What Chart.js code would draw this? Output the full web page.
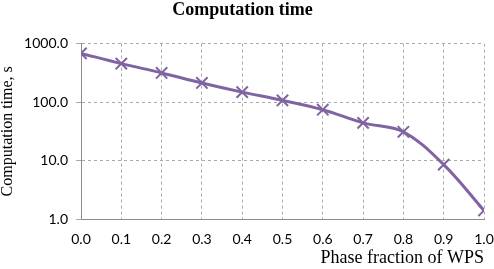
<!DOCTYPE html>
<html>
<head>
<meta charset="utf-8">
<script src="https://cdn.jsdelivr.net/npm/chart.js@4"></script>
<style>
    html, body { margin: 0; padding: 0; background: #fff; }
    #wrap { width: 494px; height: 269px; }
</style>
</head>
<body>
<div id="wrap"><canvas id="TimeChart"></canvas></div>
<script>
const phaseFraction = [0.0, 0.1, 0.2, 0.3, 0.4, 0.5, 0.6, 0.7, 0.8, 0.9, 1.0];
const compTime = [680, 455, 315, 212, 148, 107, 74, 44, 31, 8.5, 1.4];
const yTicks = [1, 10, 100, 1000];

function TimeChart() {
    const ctx = document.getElementById("TimeChart");
    const purple = "rgb(128, 100, 162)";
    const gridColor = "rgb(170, 170, 170)";
    const axisColor = "rgb(140, 140, 140)";

    new Chart(ctx, {
        type: "line",
        data: {
            datasets: [
                {
                    label: "Computation time",
                    data: phaseFraction.map((x, i) => ({ x: x, y: compTime[i] })),
                    borderColor: purple,
                    backgroundColor: purple,
                    borderWidth: 3,
                    fill: false,
                    tension: 0.35,
                    pointStyle: "crossRot",
                    pointRadius: 8,
                    pointBorderWidth: 2,
                    pointBorderColor: purple,
                },
            ],
        },
        options: {
            responsive: true,
            maintainAspectRatio: false,
            animation: false,
            layout: {
                padding: { left: 0, right: 9, top: 0, bottom: 0 }
            },
            plugins: {
                legend: { display: false },
                tooltip: { enabled: false },
                title: {
                    display: true,
                    text: "Computation time",
                    color: "#000",
                    font: { family: "Liberation Serif", size: 18, weight: "bold", lineHeight: 1.2 },
                    padding: { top: 0, bottom: 22 },
                },
            },
            scales: {
                x: {
                    type: "linear",
                    min: 0,
                    max: 1,
                    afterBuildTicks: (scale) => {
                        scale.ticks = phaseFraction.map(v => ({ value: v }));
                    },
                    afterFit: (scale) => {
                        scale.height = 50;
                        scale.paddingLeft = 0;
                        scale.paddingRight = 9;
                    },
                    grid: {
                        color: gridColor,
                        lineWidth: 1,
                        drawTicks: false,
                    },
                    border: { display: true, color: axisColor, width: 1, dash: [3, 3] },
                    ticks: {
                        color: "#000",
                        padding: 12,
                        maxRotation: 0,
                        font: { family: "Lato", size: 14 },
                        callback: (v) => Number(v).toFixed(1),
                    },
                    title: {
                        display: true,
                        text: "Phase fraction of WPS",
                        align: "end",
                        color: "#000",
                        font: { family: "Liberation Serif", size: 18 },
                        padding: { top: 0, bottom: 0 },
                    },
                },
                y: {
                    type: "logarithmic",
                    min: 1,
                    max: 1000,
                    afterBuildTicks: (scale) => {
                        scale.ticks = yTicks.map(v => ({ value: v }));
                    },
                    afterFit: (scale) => { scale.width = 81; },
                    grid: {
                        color: gridColor,
                        lineWidth: 1,
                        drawTicks: true,
                        tickLength: 5,
                    },
                    border: { display: true, color: axisColor, width: 1, dash: [3, 3] },
                    ticks: {
                        color: "#000",
                        padding: 8,
                        font: { family: "Lato", size: 14 },
                        callback: (v) => Number(v).toFixed(1),
                    },
                    title: {
                        display: true,
                        text: "Computation time, s",
                        color: "#000",
                        font: { family: "Liberation Serif", size: 16, lineHeight: 1.0 },
                        padding: { top: 0, bottom: 0 },
                    },
                },
            },
        },
    });
}

TimeChart();
</script>
</body>
</html>
